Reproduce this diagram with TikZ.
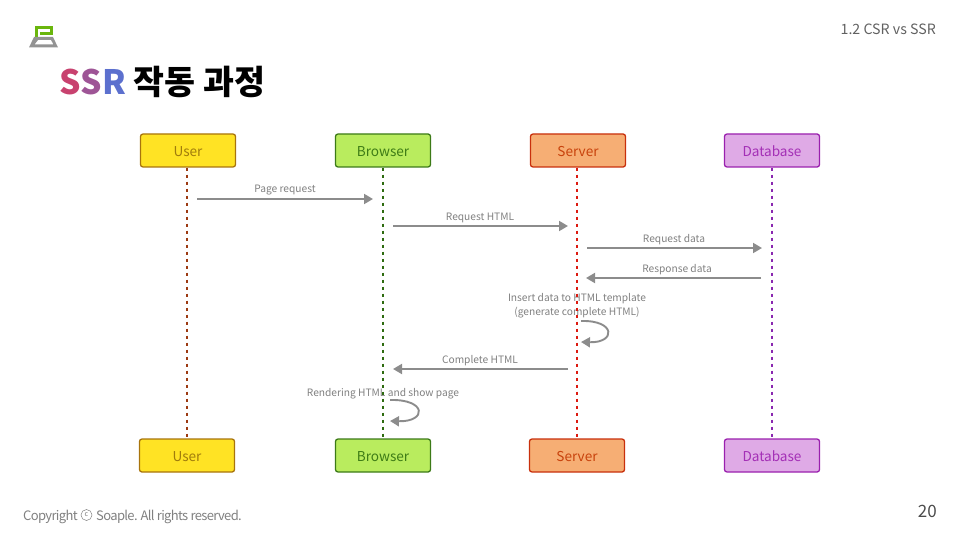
\documentclass[tikz,border=0pt]{standalone}
\usepackage{fontspec}
\usepackage{xcolor}
\setmainfont{Noto Sans CJK KR}
\usetikzlibrary{positioning,arrows.meta}
\definecolor{arrowgray}{HTML}{8C8C8C}
\definecolor{labelgray}{HTML}{808080}
\definecolor{footgray}{HTML}{808080}
\definecolor{userline}{HTML}{A8740C}
\definecolor{userfill}{HTML}{FFE324}
\definecolor{usertext}{HTML}{A07C0C}
\definecolor{userdash}{HTML}{9C3A12}
\definecolor{browserline}{HTML}{3C7A18}
\definecolor{browserfill}{HTML}{B9EC5E}
\definecolor{browsertext}{HTML}{3E7C16}
\definecolor{browserdash}{HTML}{2E6B10}
\definecolor{serverline}{HTML}{C8300C}
\definecolor{serverfill}{HTML}{F6AE74}
\definecolor{servertext}{HTML}{C8420C}
\definecolor{serverdash}{HTML}{DC1A10}
\definecolor{dataline}{HTML}{9A20AE}
\definecolor{datafill}{HTML}{DFAAE6}
\definecolor{datatext}{HTML}{A430B6}
\definecolor{datadash}{HTML}{8A28B0}
\tikzset{
  actorbox/.style={draw,rounded corners=2.5pt,line width=1.3pt,minimum width=95pt,minimum height=33pt,inner sep=0pt,text height=12pt,text depth=0pt,font=\fontsize{13.6}{14}\selectfont},
  userbox/.style={actorbox,draw=userline,fill=userfill,text=usertext},
  browserbox/.style={actorbox,draw=browserline,fill=browserfill,text=browsertext},
  serverbox/.style={actorbox,draw=serverline,fill=serverfill,text=servertext},
  databox/.style={actorbox,draw=dataline,fill=datafill,text=datatext},
  lifeline/.style={dash pattern=on 3.5pt off 3.5pt,line width=1.6pt},
  msg/.style={draw=arrowgray,line width=1.9pt,-{Triangle[length=9pt,width=10pt]}},
  msglabel/.style={text=labelgray,font=\fontsize{10.2}{14}\selectfont,align=center,inner sep=0pt},
  footlabel/.style={text=footgray,inner sep=0pt,font=\fontsize{13}{14}\selectfont\addfontfeature{LetterSpace=-5}}
}
\begin{document}
\begin{tikzpicture}[x=1pt,y=-1pt]
\useasboundingbox (0,0) rectangle (960,540);

% logo
\draw[line width=3pt,color=green!45!yellow!70!black!95] (36.5,37) -- (36.5,27.5) -- (51.5,27.5) -- (51.5,33.5) -- (40,33.5);
\fill[gray!85,even odd rule] (34,37) -- (53,37) -- (58,47.5) -- (29,47.5) -- cycle (38,40) -- (51,40) -- (53.5,44.5) -- (34.5,44.5) -- cycle;

% header
\node[anchor=east,text=black!62,font=\fontsize{14.2}{14}\selectfont,inner sep=0pt] (section) at (936,29.5) {1.2 CSR vs SSR};
\node[anchor=west,inner sep=0pt,font=\fontsize{33.6}{36}\bfseries\selectfont] (title) at (59,82)
  {{\addfontfeature{LetterSpace=-5}\textcolor[HTML]{C8426F}{S}\textcolor[HTML]{9E5596}{S}\textcolor[HTML]{5C70CE}{R}} 작동 과정};

% message labels
\node[msglabel] (pagelabel) at (285,190) {Page request};
\node[msglabel] (htmllabel) at (480,218) {Request HTML};
\node[msglabel] (reqlabel) at (674,240) {Request data};
\node[msglabel] (resplabel) at (677,270) {Response data};
\node[msglabel] (insertlabel) at (577,306) {Insert data to HTML template\\(generate complete HTML)};
\node[msglabel] (completelabel) at (480,361) {Complete HTML};
\node[msglabel] (renderlabel) at (383,394) {Rendering HTML and show page};

% boxes
\node[userbox] (usertop) at (188,150.5) {User};
\node[browserbox] (browsertop) at (383,150.5) {Browser};
\node[serverbox] (servertop) at (578,150.5) {Server};
\node[databox] (datatop) at (772,150.5) {Database};
\node[userbox] (userbot) at (187,455.5) {User};
\node[browserbox] (browserbot) at (383,455.5) {Browser};
\node[serverbox] (serverbot) at (577,455.5) {Server};
\node[databox] (databot) at (772,455.5) {Database};

% life lines
\draw[lifeline,draw=userdash] (usertop.south -| userbot.north) -- (userbot.north);
\draw[lifeline,draw=browserdash] (browsertop.south) -- (browserbot.north);
\draw[lifeline,draw=serverdash] (servertop.south -| serverbot.north) -- (serverbot.north);
\draw[lifeline,draw=datadash] (datatop.south) -- (databot.north);

% free ends of the messages
\coordinate (pagea) at (197,199);
\coordinate (pageb) at (373,199);
\coordinate (htmla) at (393,226);
\coordinate (htmlb) at (568,226);
\coordinate (reqa) at (587,248);
\coordinate (reqb) at (762,248);
\coordinate (respa) at (761,278);
\coordinate (respb) at (586,278);
\coordinate (loopa) at (581,321);
\coordinate (loopb) at (581,342);
\coordinate (completea) at (568,369);
\coordinate (completeb) at (393,369);
\coordinate (renda) at (390,400);
\coordinate (rendb) at (390,421);

\draw[msg] (pagea) -- (pageb);
\draw[msg] (htmla) -- (htmlb);
\draw[msg] (reqa) -- (reqb);
\draw[msg] (respa) -- (respb);
\draw[msg] (loopa) .. controls (616,320) and (616,343) .. (loopb);
\draw[msg] (completea) -- (completeb);
\draw[msg] (renda) .. controls (427,399) and (427,422) .. (rendb);

% footer
\node[anchor=west,footlabel] (copyright) at (23,516.5) {Copyright};
\node[circle,draw=footgray,line width=0.5pt,minimum size=11pt,inner sep=0pt,text=footgray,font=\fontsize{7}{7}\selectfont] (copymark) at (86.5,515) {c};
\node[anchor=west,footlabel] (soaple) at (96,516.5) {Soaple. All rights reserved.};
\node[anchor=east,text=black!70,font=\fontsize{17}{17}\selectfont,inner sep=0pt] (pagenum) at (937,511) {20};
\end{tikzpicture}
\end{document}
